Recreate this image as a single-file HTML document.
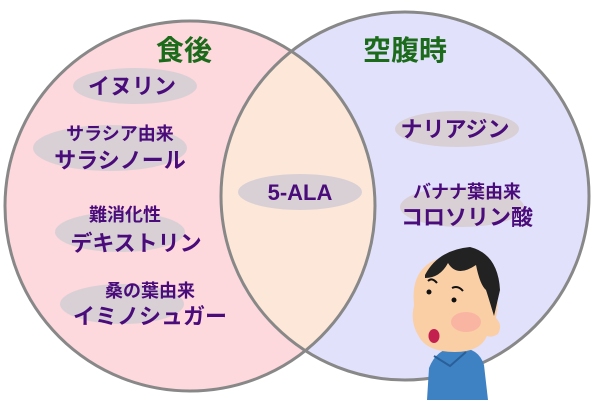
<!DOCTYPE html>
<html><head><meta charset="utf-8"><style>
body{margin:0;background:#fff;}
svg text{font-family:"Liberation Sans","Noto Sans CJK JP",sans-serif;font-weight:bold;}
</style></head><body>
<svg width="600" height="400" viewBox="0 0 600 400" xmlns="http://www.w3.org/2000/svg">
<defs>
<clipPath id="cl"><circle cx="190" cy="206" r="185"/></clipPath>
</defs>
<circle cx="190" cy="206" r="185" fill="#fdd8dc"/>
<circle cx="405" cy="196" r="184" fill="#e1e1fb"/>
<circle cx="405" cy="196" r="184" fill="#fde7d8" clip-path="url(#cl)"/>
<circle cx="190" cy="206" r="185" fill="none" stroke="#888" stroke-width="3"/>
<circle cx="405" cy="196" r="184" fill="none" stroke="#888" stroke-width="3"/>
<g fill="#d9d0d6">
<ellipse cx="135" cy="86" rx="62" ry="18"/>
<ellipse cx="110" cy="148" rx="77" ry="23"/>
<ellipse cx="120" cy="232" rx="65" ry="20"/>
<ellipse cx="122" cy="304" rx="62" ry="20"/>
<ellipse cx="300" cy="192" rx="62" ry="18"/>
<ellipse cx="457" cy="129" rx="62" ry="18"/>
<ellipse cx="462" cy="207" rx="62" ry="20"/>
</g>
<g fill="#1b6b1b" font-size="28" text-anchor="middle">
<text x="184" y="60">食後</text>
<text x="405" y="60">空腹時</text>
</g>
<g fill="#4a0c7a" text-anchor="middle">
<text x="132" y="94" font-size="22">イヌリン</text>
<text x="120" y="140" font-size="18">サラシア由来</text>
<text x="120" y="168" font-size="22">サラシノール</text>
<text x="125" y="221" font-size="18">難消化性</text>
<text x="136" y="251" font-size="22">デキストリン</text>
<text x="150" y="297" font-size="18">桑の葉由来</text>
<text x="150" y="324" font-size="22">イミノシュガー</text>
<text x="300" y="200" font-size="22">5-ALA</text>
<text x="455" y="137" font-size="22">ナリアジン</text>
<text x="467" y="198" font-size="18">バナナ葉由来</text>
<text x="467" y="225" font-size="22">コロソリン酸</text>
</g>
<!-- person -->
<path d="M427 400 L429 368 Q437 348 455 348 Q478 346 484 365 L488 400 Z" fill="#3e82c4"/>
<path d="M434 356 L450 366 L466 352" fill="none" stroke="#2a5f98" stroke-width="2"/>
<path d="M414 305 Q410 268 440 258 Q478 250 494 285 Q500 300 496 318 Q503 325 498 334 Q492 338 487 336 Q480 352 455 352 Q426 352 418 335 Q410 322 414 305 Z" fill="#fbcfa6"/>
<ellipse cx="466" cy="322" rx="15" ry="10" fill="#f8a9a0" opacity="0.7"/>
<path d="M425 275 Q438 250 470 247 Q498 254 500 290 L494 316 Q488 296 486 290 Q480 285 476 265 Q457 278 448 263 Q440 278 425 278 Z" fill="#222"/>
<circle cx="429" cy="292" r="2.5" fill="#111"/>
<circle cx="454" cy="300" r="2.5" fill="#111"/>
<path d="M428 281 Q432 277 437 283" fill="none" stroke="#111" stroke-width="2"/>
<path d="M452 288 Q458 285 463 291" fill="none" stroke="#111" stroke-width="2"/>
<ellipse cx="434" cy="336" rx="5.5" ry="7" fill="#c4204f"/>
</svg>
</body></html>
